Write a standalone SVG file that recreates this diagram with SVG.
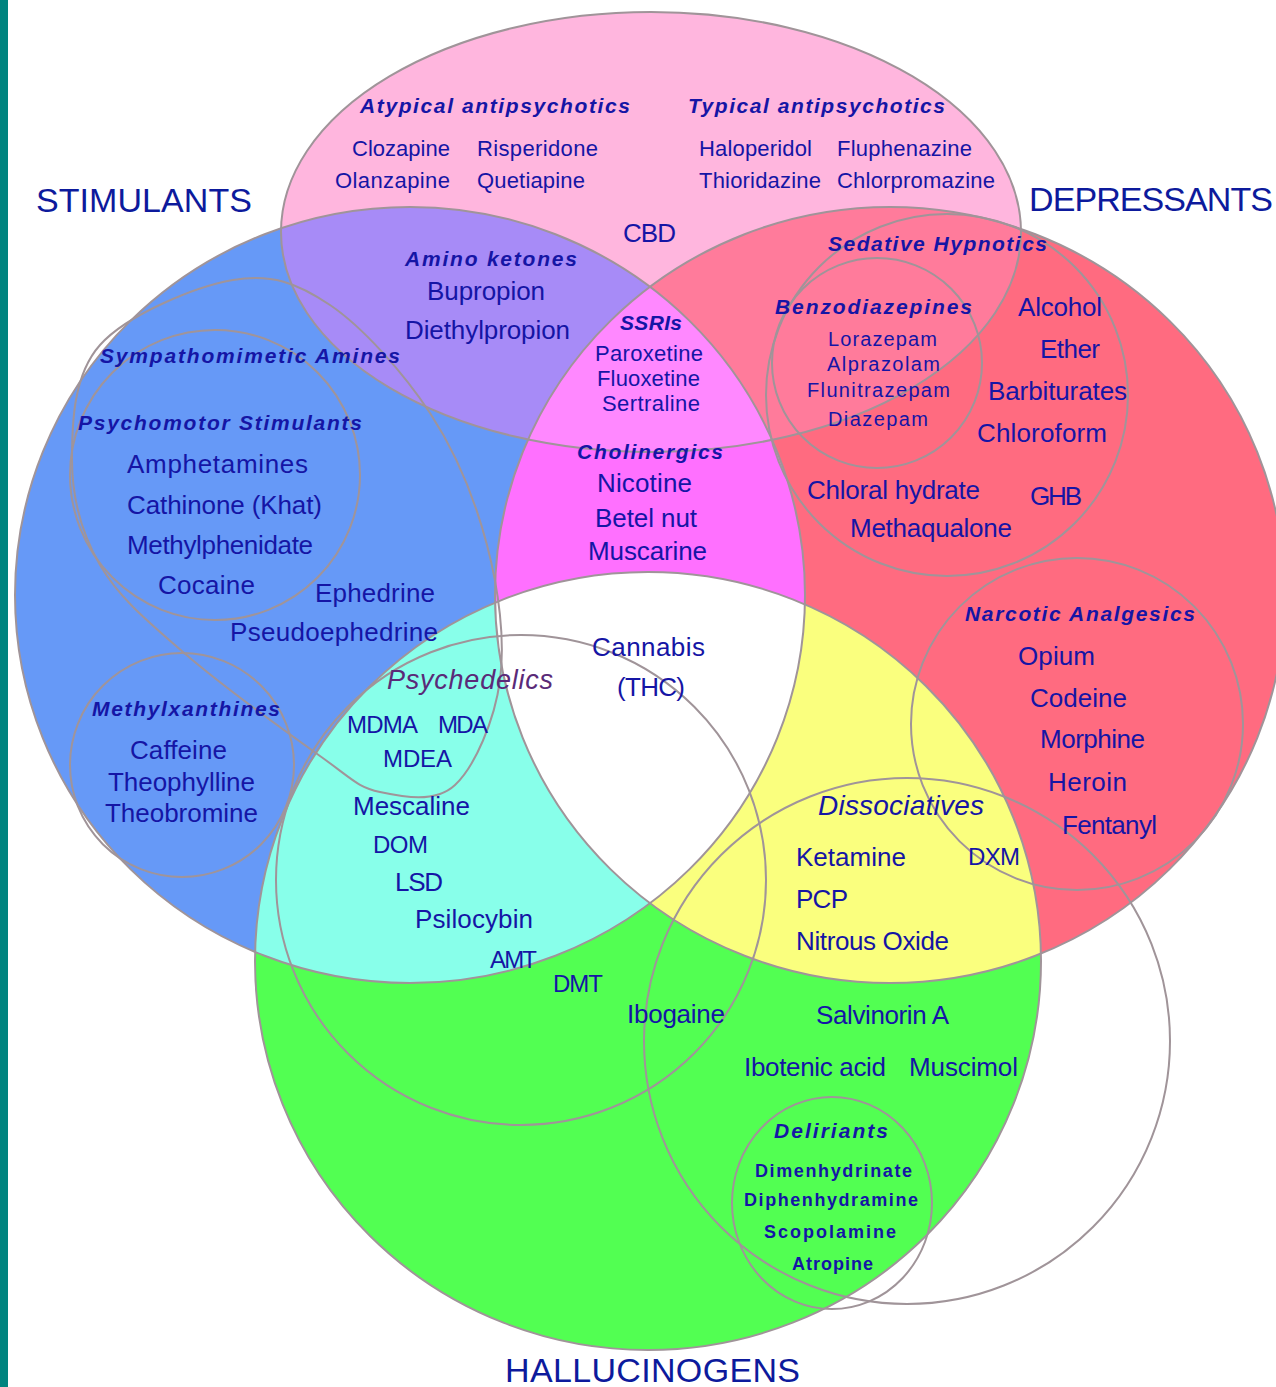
<svg xmlns="http://www.w3.org/2000/svg" width="1276" height="1387" viewBox="0 0 1276 1387">
<style>
text{font-family:"Liberation Sans",Arial,sans-serif;fill:#1515a5}
.n{font-size:26px}
.k{font-size:24px}
.m{font-size:22px}
.s{font-size:20px}
.d{font-size:18px;font-weight:bold}
.h{font-size:21px;font-weight:bold;font-style:italic}
.i{font-size:28px;font-style:italic}
.T{font-size:34px;fill:#0d1a9c}
.o{fill:none;stroke:#a09499;stroke-width:2}
</style>
<defs>
<ellipse id="P" cx="651" cy="232" rx="370" ry="220"/>
<ellipse id="B" cx="410" cy="595" rx="395" ry="388"/>
<ellipse id="R" cx="890" cy="595" rx="395" ry="388"/>
<ellipse id="G" cx="648" cy="961" rx="393" ry="389"/>
<clipPath id="cP"><use href="#P"/></clipPath>
<clipPath id="cB"><use href="#B"/></clipPath>
<clipPath id="cR"><use href="#R"/></clipPath>
<clipPath id="cG"><use href="#G"/></clipPath>
</defs>
<rect width="1276" height="1387" fill="#ffffff"/>
<rect x="0" y="0" width="8" height="1387" fill="#00847f"/>
<g id="regions">
<use href="#P" fill="#FFB6DE"/>
<use href="#B" fill="#6699F7"/>
<use href="#R" fill="#FF6B80"/>
<use href="#G" fill="#52FF52"/>
<use href="#B" fill="#A78BF7" clip-path="url(#cP)"/>
<use href="#R" fill="#FF7B9B" clip-path="url(#cP)"/>
<use href="#B" fill="#FF70FF" clip-path="url(#cR)"/>
<g clip-path="url(#cP)"><use href="#B" fill="#FF88FF" clip-path="url(#cR)"/></g>
<use href="#B" fill="#88FFEA" clip-path="url(#cG)"/>
<use href="#R" fill="#FAFF7E" clip-path="url(#cG)"/>
<g clip-path="url(#cG)"><use href="#B" fill="#FFFFFF" clip-path="url(#cR)"/></g>
</g>
<g id="outlines">
<use href="#P" class="o"/>
<use href="#B" class="o"/>
<use href="#R" class="o"/>
<use href="#G" class="o"/>
<path id="sympathomimetic-outline" class="o" d="M233,280 C271.3,273.3 297.2,282.8 330,305 C362.8,327.2 403.8,373 430,413 C456.2,453 475.3,500.5 487,545 C498.7,589.5 505.3,640 500,680 C494.7,720 475,766.3 455,785 C435,803.7 402.5,796.8 380,792 C357.5,787.2 352.8,779.3 320,756 C287.2,732.7 219.7,683.8 183,652 C146.3,620.2 118.5,597 100,565 C81.5,533 72,496.7 72,460 C72,423.3 73.2,375 100,345 C126.8,315 194.7,286.7 233,280 Z"/>
<circle class="o" cx="215" cy="475" r="145"/>
<circle class="o" cx="182" cy="765" r="112"/>
<circle class="o" cx="521" cy="880" r="245"/>
<circle class="o" cx="947" cy="395" r="181"/>
<circle class="o" cx="877" cy="363" r="105"/>
<circle class="o" cx="1077" cy="724" r="166"/>
<circle class="o" cx="907" cy="1041" r="263"/>
<ellipse class="o" cx="832" cy="1203" rx="100" ry="106"/>
</g>
<g id="titles">
<text class="T" x="36" y="212" textLength="216">STIMULANTS</text>
<text class="T" x="1029" y="211" textLength="244">DEPRESSANTS</text>
<text class="T" x="505" y="1382" textLength="295">HALLUCINOGENS</text>
</g>
<g id="antipsychotics">
<text class="h" x="360" y="113" textLength="270">Atypical antipsychotics</text>
<text class="h" x="688" y="113" textLength="257">Typical antipsychotics</text>
<text class="m" x="352" y="156" textLength="98">Clozapine</text>
<text class="m" x="477" y="156" textLength="121">Risperidone</text>
<text class="m" x="335" y="188" textLength="115">Olanzapine</text>
<text class="m" x="477" y="188" textLength="108">Quetiapine</text>
<text class="m" x="699" y="156" textLength="113">Haloperidol</text>
<text class="m" x="837" y="156" textLength="135">Fluphenazine</text>
<text class="m" x="699" y="188" textLength="122">Thioridazine</text>
<text class="m" x="837" y="188" textLength="158">Chlorpromazine</text>
<text class="n" x="623" y="242" textLength="53">CBD</text>
</g>
<g id="amino-ketones">
<text class="h" x="405" y="266" textLength="172">Amino ketones</text>
<text class="n" x="427" y="300" textLength="118">Bupropion</text>
<text class="n" x="405" y="339" textLength="165">Diethylpropion</text>
</g>
<g id="ssris">
<text class="h" x="620" y="330" textLength="62">SSRIs</text>
<text class="m" x="595" y="361" textLength="108">Paroxetine</text>
<text class="m" x="597" y="386" textLength="103">Fluoxetine</text>
<text class="m" x="602" y="411" textLength="98">Sertraline</text>
</g>
<g id="cholinergics">
<text class="h" x="577" y="459" textLength="146">Cholinergics</text>
<text class="n" x="597" y="492" textLength="95">Nicotine</text>
<text class="n" x="595" y="527" textLength="102">Betel nut</text>
<text class="n" x="588" y="560" textLength="119">Muscarine</text>
</g>
<g id="sedative-hypnotics">
<text class="h" x="828" y="251" textLength="219">Sedative Hypnotics</text>
<text class="n" x="1018" y="316" textLength="84">Alcohol</text>
<text class="n" x="1040" y="358" textLength="60">Ether</text>
<text class="n" x="988" y="400" textLength="139">Barbiturates</text>
<text class="n" x="977" y="442" textLength="130">Chloroform</text>
<text class="n" x="807" y="499" textLength="173">Chloral hydrate</text>
<text class="n" x="1030" y="505" textLength="52">GHB</text>
<text class="n" x="850" y="537" textLength="162">Methaqualone</text>
</g>
<g id="benzodiazepines">
<text class="h" x="775" y="314" textLength="197">Benzodiazepines</text>
<text class="s" x="828" y="346" textLength="109">Lorazepam</text>
<text class="s" x="827" y="371" textLength="113">Alprazolam</text>
<text class="s" x="807" y="397" textLength="143">Flunitrazepam</text>
<text class="s" x="828" y="426" textLength="100">Diazepam</text>
</g>
<g id="narcotic-analgesics">
<text class="h" x="965" y="621" textLength="230">Narcotic Analgesics</text>
<text class="n" x="1018" y="665" textLength="77">Opium</text>
<text class="n" x="1030" y="707" textLength="97">Codeine</text>
<text class="n" x="1040" y="748" textLength="105">Morphine</text>
<text class="n" x="1048" y="791" textLength="79">Heroin</text>
<text class="n" x="1062" y="834" textLength="95">Fentanyl</text>
</g>
<g id="sympathomimetic-amines">
<text class="h" x="100" y="363" textLength="300">Sympathomimetic Amines</text>
<text class="n" x="315" y="602" textLength="120">Ephedrine</text>
<text class="n" x="230" y="641" textLength="208">Pseudoephedrine</text>
</g>
<g id="psychomotor-stimulants">
<text class="h" x="78" y="430" textLength="284">Psychomotor Stimulants</text>
<text class="n" x="127" y="473" textLength="181">Amphetamines</text>
<text class="n" x="127" y="514" textLength="195">Cathinone (Khat)</text>
<text class="n" x="127" y="554" textLength="186">Methylphenidate</text>
<text class="n" x="158" y="594" textLength="97">Cocaine</text>
</g>
<g id="methylxanthines">
<text class="h" x="92" y="716" textLength="188">Methylxanthines</text>
<text class="n" x="130" y="759" textLength="97">Caffeine</text>
<text class="n" x="108" y="791" textLength="147">Theophylline</text>
<text class="n" x="105" y="822" textLength="153">Theobromine</text>
</g>
<g id="psychedelics">
<text x="387" y="689" font-size="27" font-style="italic" style="fill:#5a2a78" textLength="166">Psychedelics</text>
<text class="k" x="347" y="733" textLength="71">MDMA</text>
<text class="k" x="438" y="733" textLength="50">MDA</text>
<text class="k" x="383" y="767" textLength="69">MDEA</text>
<text class="n" x="353" y="815" textLength="117">Mescaline</text>
<text class="k" x="373" y="853" textLength="55">DOM</text>
<text class="n" x="395" y="891" textLength="48">LSD</text>
<text class="n" x="415" y="928" textLength="118">Psilocybin</text>
<text class="k" x="490" y="968" textLength="47">AMT</text>
<text class="k" x="553" y="992" textLength="50">DMT</text>
</g>
<g id="cannabis">
<text class="n" x="592" y="656" textLength="113">Cannabis</text>
<text class="n" x="617" y="696" textLength="68">(THC)</text>
</g>
<g id="dissociatives">
<text class="i" x="818" y="815" textLength="166">Dissociatives</text>
<text class="n" x="796" y="866" textLength="110">Ketamine</text>
<text class="k" x="968" y="865" textLength="52">DXM</text>
<text class="n" x="796" y="908" textLength="52">PCP</text>
<text class="n" x="796" y="950" textLength="153">Nitrous Oxide</text>
</g>
<g id="hallucinogens">
<text class="n" x="627" y="1023" textLength="98">Ibogaine</text>
<text class="n" x="816" y="1024" textLength="133">Salvinorin A</text>
<text class="n" x="744" y="1076" textLength="142">Ibotenic acid</text>
<text class="n" x="909" y="1076" textLength="109">Muscimol</text>
</g>
<g id="deliriants">
<text class="h" x="774" y="1138" textLength="114">Deliriants</text>
<text class="d" x="755" y="1177" textLength="157">Dimenhydrinate</text>
<text class="d" x="744" y="1206" textLength="174">Diphenhydramine</text>
<text class="d" x="764" y="1238" textLength="132">Scopolamine</text>
<text class="d" x="792" y="1270" textLength="81">Atropine</text>
</g>
</svg>
